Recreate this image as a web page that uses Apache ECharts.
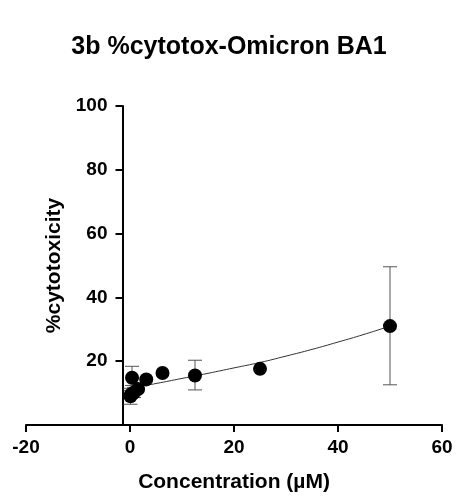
<!DOCTYPE html>
<html>
<head>
<meta charset="utf-8">
<script src="https://cdn.jsdelivr.net/npm/echarts@6/dist/echarts.min.js"></script>
<style>
html,body{margin:0;padding:0;background:#fff;}
#chart{width:458px;height:499px;}
</style>
</head>
<body>
<div id="chart"></div>
<script>
// Data
var concentrations = [0.098, 0.195, 0.39, 0.78, 1.5625, 3.125, 6.25, 12.5, 25, 50];
var cytotoxicity   = [9.0, 9.6, 14.8, 10.2, 11.3, 14.3, 16.3, 15.5, 17.6, 31.0];
var errorLow       = [6.5, 8.4, 12.4, 8.6, 11.3, 14.3, 16.3, 11.0, 17.6, 12.6];
var errorHigh      = [11.5, 10.8, 18.4, 11.8, 11.3, 14.3, 16.3, 20.3, 17.6, 49.6];
var fitX = [0, 5, 10, 15, 20, 25, 30, 35, 40, 45, 50];
var fitY = [11.5, 13.0, 14.6, 16.2, 17.9, 19.6, 21.6, 23.7, 26.0, 28.4, 31.0];
var xTicks = [-20, 0, 20, 40, 60];
var yTicks = [0, 20, 40, 60, 80, 100];

var font = '"Liberation Sans", Arial, sans-serif';
var points = concentrations.map(function (c, i) { return [c, cytotoxicity[i]]; });
var bars = concentrations.map(function (c, i) { return [c, errorLow[i], errorHigh[i]]; })
  .filter(function (d) { return d[2] - d[1] > 0.01; });
var fit = fitX.map(function (x, i) { return [x, fitY[i]]; });

var GRID_TOP = 106, GRID_BOTTOM = 74, GRID_RIGHT = 16;
var chart = echarts.init(document.getElementById('chart'), null, {renderer: 'canvas'});
chart.setOption({
  animation: false,
  backgroundColor: '#fff',
  title: {
    text: '3b %cytotox-Omicron BA1',
    left: 'center', top: 30,
    textStyle: {fontFamily: font, fontWeight: 'bold', fontSize: 25, color: '#000'}
  },
  grid: [
    {left: 26, right: GRID_RIGHT, top: GRID_TOP, bottom: GRID_BOTTOM, outerBoundsMode: 'none', containLabel: false},
    {left: 122.5, right: GRID_RIGHT, top: GRID_TOP, bottom: GRID_BOTTOM, outerBoundsMode: 'none', containLabel: false}
  ],
  xAxis: [{
    gridIndex: 0,
    type: 'value', min: xTicks[0], max: xTicks[xTicks.length - 1], interval: 20,
    name: 'Concentration (\u00b5M)', nameLocation: 'middle', nameGap: 47,
    nameTextStyle: {fontFamily: font, fontWeight: 'bold', fontSize: 21, color: '#000'},
    axisLine: {onZero: false, lineStyle: {color: '#000', width: 2}},
    axisTick: {show: true, length: 7, lineStyle: {color: '#000', width: 2}},
    axisLabel: {fontFamily: font, fontWeight: 'bold', fontSize: 19, color: '#000', margin: 13},
    splitLine: {show: false}
  }, {
    gridIndex: 1, type: 'value', show: false, min: 0, max: 1
  }],
  yAxis: [{
    gridIndex: 0, type: 'value', show: false,
    min: yTicks[0], max: yTicks[yTicks.length - 1], interval: 20,
    splitLine: {show: false}
  }, {
    gridIndex: 1,
    type: 'value', min: yTicks[0], max: yTicks[yTicks.length - 1], interval: 20,
    name: '%cytotoxicity', nameLocation: 'middle', nameGap: 58, nameRotate: 90,
    nameTextStyle: {fontFamily: font, fontWeight: 'bold', fontSize: 21, color: '#000'},
    axisLine: {show: true, onZero: false, lineStyle: {color: '#000', width: 2}},
    axisTick: {show: true, length: 7, lineStyle: {color: '#000', width: 2}},
    axisLabel: {fontFamily: font, fontWeight: 'bold', fontSize: 19, color: '#000', margin: 15,
      formatter: function (v) { return v === 0 ? '' : v; }},
    splitLine: {show: false}
  }],
  series: [{
    type: 'line', data: fit, smooth: true, showSymbol: false, symbol: 'none',
    xAxisIndex: 0, yAxisIndex: 0,
    lineStyle: {color: '#333', width: 1}, z: 1, silent: true
  }, {
    type: 'custom', data: bars, z: 2, silent: true, xAxisIndex: 0, yAxisIndex: 0,
    renderItem: function (params, api) {
      var x = api.value(0);
      var lo = api.coord([x, api.value(1)]);
      var hi = api.coord([x, api.value(2)]);
      var half = 7;
      var st = {stroke: '#555', lineWidth: 1};
      return {type: 'group', children: [
        {type: 'line', shape: {x1: lo[0], y1: lo[1], x2: hi[0], y2: hi[1]}, style: st},
        {type: 'line', shape: {x1: lo[0] - half, y1: lo[1], x2: lo[0] + half, y2: lo[1]}, style: st},
        {type: 'line', shape: {x1: hi[0] - half, y1: hi[1], x2: hi[0] + half, y2: hi[1]}, style: st}
      ]};
    }
  }, {
    type: 'scatter', data: points, symbol: 'circle', symbolSize: 14, z: 3,
    xAxisIndex: 0, yAxisIndex: 0,
    itemStyle: {color: '#000', opacity: 1}
  }]
});
</script>
</body>
</html>
